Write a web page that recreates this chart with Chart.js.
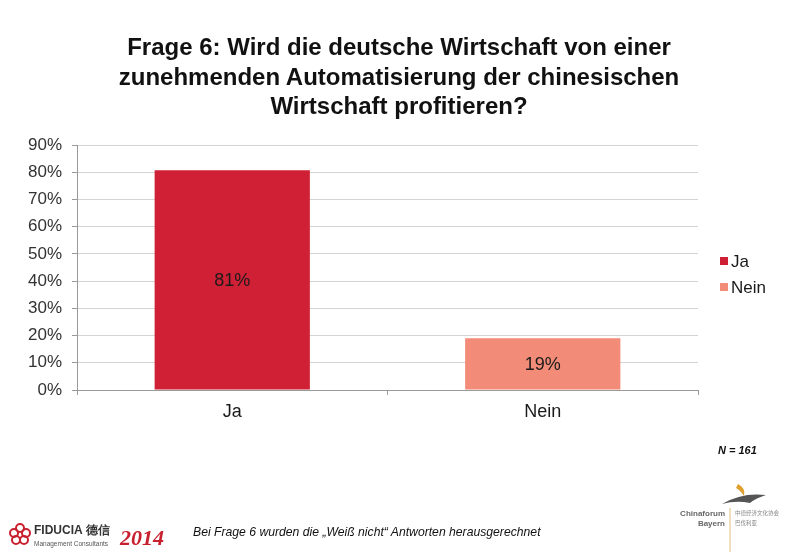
<!DOCTYPE html>
<html><head><meta charset="utf-8">
<script src="https://cdn.jsdelivr.net/npm/chart.js@4.4.1/dist/chart.umd.min.js"></script>
<style>
html,body{margin:0;padding:0;background:#fff;}
#wrap{position:relative;width:800px;height:552px;overflow:hidden;font-family:"Liberation Sans",Arial,sans-serif;}
#c{position:absolute;left:0;top:0;}
#title{position:absolute;left:0;top:32px;width:798px;text-align:center;font-weight:bold;font-size:24px;line-height:29.5px;color:#111;}
#n{position:absolute;left:718px;top:444px;font-style:italic;font-weight:bold;font-size:11px;color:#111;}
#foot{position:absolute;left:193px;top:525px;font-style:italic;font-size:12.2px;color:#111;}
#fid{position:absolute;left:8px;top:520px;}
#cf{position:absolute;left:680px;top:470px;}
</style></head>
<body><div id="wrap">
<canvas id="c" width="800" height="552"></canvas>
<div id="title">Frage 6: Wird die deutsche Wirtschaft von einer<br>zunehmenden Automatisierung der chinesischen<br>Wirtschaft profitieren?</div>
<div id="n">N = 161</div>
<div id="foot">Bei Frage 6 wurden die „Weiß nicht“ Antworten herausgerechnet</div>
<div id="fid">
  <svg width="170" height="30" viewBox="0 0 170 30">
    <g fill="none" stroke="#c8202f" stroke-width="2">
      <circle cx="12" cy="8" r="4"/><circle cx="6" cy="13" r="4"/><circle cx="18" cy="13" r="4"/><circle cx="8" cy="20" r="4"/><circle cx="16" cy="20" r="4"/>
    </g>
    <text x="26" y="14" font-family="Liberation Sans,Arial" font-weight="bold" font-size="12" fill="#333">FIDUCIA 德信</text>
    <text x="26" y="26" font-family="Liberation Sans,Arial" font-size="6.5" fill="#555">Management Consultants</text>
    <text x="112" y="25" font-family="Liberation Serif,serif" font-weight="bold" font-style="italic" font-size="22" fill="#c8202f">2014</text>
  </svg>
</div>
<div id="cf">
  <svg width="120" height="82" viewBox="0 0 120 82">
    <path d="M42 34 Q62 22 86 25 Q76 28 70 33 Q56 30 42 34Z" fill="#555"/>
    <path d="M58 14 Q66 18 64 26 Q60 20 56 18Z" fill="#e0a030"/>
    <text x="45" y="46" text-anchor="end" font-family="Liberation Sans,Arial" font-size="8" font-weight="bold" fill="#666">Chinaforum</text>
    <text x="45" y="56" text-anchor="end" font-family="Liberation Sans,Arial" font-size="8" font-weight="bold" fill="#666">Bayern</text>
    <line x1="50" y1="38" x2="50" y2="82" stroke="#e0c080" stroke-width="1"/>
    <text x="55" y="45" font-family="Noto Sans CJK SC" font-size="5.5" fill="#888">中德经济文化协会</text>
    <text x="55" y="55" font-family="Noto Sans CJK SC" font-size="5.5" fill="#888">巴伐利亚</text>
  </svg>
</div>
</div>
<script>
const categories = ["Ja", "Nein"];
const values = [0.807, 0.19];
const valueLabels = ["81%", "19%"];
const barColors = ["#d02035", "#f28c78"];
const yTicks = [0, 0.1, 0.2, 0.3, 0.4, 0.5, 0.6, 0.7, 0.8, 0.9];

const FONT = '"Liberation Sans", Arial, sans-serif';

const extras = {
  id: 'extras',
  afterDatasetsDraw(chart) {
    const ctx = chart.ctx;
    const meta = chart.getDatasetMeta(0);
    ctx.save();
    ctx.font = '18px ' + FONT;
    ctx.fillStyle = '#1a1a1a';
    ctx.textAlign = 'center';
    ctx.textBaseline = 'middle';
    meta.data.forEach((bar, i) => {
      const p = bar.getProps(['x', 'y', 'base'], true);
      ctx.fillText(valueLabels[i], p.x, (p.y + p.base) / 2 + 1);
    });
    // legend
    ctx.font = '17px ' + FONT;
    ctx.textAlign = 'left';
    categories.forEach((c, i) => {
      const y = 261 + i * 26;
      ctx.fillStyle = barColors[i];
      ctx.fillRect(720, y - 4, 8, 8);
      ctx.fillStyle = '#1a1a1a';
      ctx.fillText(c, 731, y + 1);
    });
    ctx.restore();
  }
};

new Chart(document.getElementById('c'), {
  type: 'bar',
  data: {
    labels: categories,
    datasets: [{ data: values, backgroundColor: barColors, borderWidth: 0,
      categoryPercentage: 1.0, barPercentage: 0.5 }]
  },
  options: {
    responsive: false,
    animation: false,
    devicePixelRatio: 1,
    layout: { padding: { left: 0, top: 145, right: 102, bottom: 122 } },
    plugins: { legend: { display: false }, title: { display: false }, tooltip: { enabled: false } },
    scales: {
      x: {
        offset: true,
        grid: { display: true, drawOnChartArea: false, offset: true, tickLength: 5, color: '#9a9a9a' },
        border: { color: '#9a9a9a', width: 1 },
        ticks: { color: '#1a1a1a', font: { family: FONT, size: 18 }, padding: 6 },
        afterFit(s) { s.height = 40; }
      },
      y: {
        min: 0, max: 0.9,
        afterBuildTicks(s) { s.ticks = yTicks.map(v => ({ value: v })); },
        grid: { color: '#d4d4d4', tickLength: 5, tickColor: '#9a9a9a' },
        border: { color: '#9a9a9a', width: 1 },
        ticks: { color: '#333', font: { family: FONT, size: 17 }, padding: 10,
          callback: v => Math.round(v * 100) + '%' },
        afterFit(s) { s.width = 77; }
      }
    }
  },
  plugins: [extras]
});
</script>
</body></html>
